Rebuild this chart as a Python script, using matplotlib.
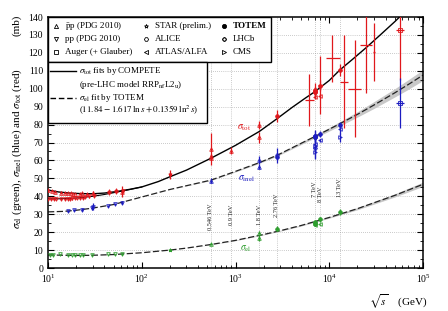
import matplotlib.pyplot as plt
import numpy as np

plt.rcParams['font.family'] = ['Liberation Serif', 'DejaVu Serif']
plt.rcParams['mathtext.fontset'] = 'stix'

red = '#e0181c'
blue = '#1c1cc0'
green = '#2e9e2e'

# ---- fit curves ----
tot_fit_x = [10, 13, 17, 22, 30, 40, 55, 75, 100, 150, 200, 300, 546, 1000, 1800,
             2760, 4000, 5500, 7000, 10000, 13000, 18000, 25000, 35000, 50000, 57000]
tot_fit_y = [43.5, 42.4, 41.8, 41.5, 41.4, 41.8, 42.7, 43.9, 45.2, 48.2, 50.9, 54.6, 61.2, 68.4, 76.2,
             83.2, 89.5, 94.6, 98.3, 104.6, 110.5, 116.7, 123.1, 130.0, 137.4, 140.3]
tot_pp_fit_x = [10, 13, 17, 22, 30, 40, 55, 75, 100]
tot_pp_fit_y = [38.6, 38.6, 38.8, 39.2, 40.0, 41.0, 42.4, 43.8, 45.2]

inel_fit_x = [10, 15, 20, 30, 50, 100, 200, 546, 1000, 1800, 2760, 4000, 5500, 7000,
              10000, 13000, 20000, 30000, 50000, 70000, 100000]
inel_fit_y = [31.3, 31.6, 32.2, 33.4, 35.4, 39.6, 43.8, 49.0, 53.9, 58.8, 62.8, 67.0, 70.6, 73.3,
              77.4, 80.5, 85.7, 90.9, 97.7, 102.4, 107.6]
inel_band = [0, 0, 0, 0, 0, 0, 0, 0.2, 0.3, 0.4, 0.5, 0.6, 0.7, 0.8,
             1.0, 1.2, 1.5, 1.9, 2.3, 2.7, 3.0]

el_fit_x = [10, 15, 20, 30, 50, 100, 200, 300, 546, 1000, 2000, 3000, 5000, 10000, 20000, 50000, 100000]
el_fit_y = [7.3, 7.1, 7.0, 7.1, 7.5, 8.5, 10.0, 11.1, 13.1, 15.4, 18.7, 20.8, 23.7, 28.2, 33.1, 40.5, 46.7]
el_band = [0, 0, 0, 0, 0, 0, 0, 0, 0.1, 0.15, 0.2, 0.25, 0.3, 0.4, 0.6, 0.9, 1.2]

# ---- data points ----
# sigma_tot
tot_ppbar_x = [10.0, 11.0, 12.0, 13.8, 15.0, 16.3, 17.7, 18.5, 19.4, 21.7, 23.0, 26.0, 30.4, 45.0, 53.0, 62.0,
               546, 546, 546, 900, 1800, 1800]
tot_ppbar_y = [43.3, 42.8, 42.2, 41.9, 41.8, 41.6, 41.8, 41.4, 41.5, 41.2, 41.6, 41.3, 41.8, 42.8, 43.4, 42.5,
               61.3, 62.2, 66.3, 65.5, 80.0, 72.8]
tot_ppbar_e = [1.0, 0.6, 0.5, 0.8, 0.6, 0.5, 0.6, 0.4, 0.5, 0.6, 0.5, 0.6, 0.9, 0.8, 0.9, 3.0,
               0.9, 1.5, 8.8, 2.0, 2.2, 3.1]
tot_pp_x = [10.0, 10.7, 11.5, 12.3, 13.8, 15.1, 16.3, 17.3, 18.2, 19.4, 20.5, 21.7, 23.5, 25.0, 27.4, 30.6,
            44.7, 52.8, 62.5]
tot_pp_y = [38.4, 38.3, 38.5, 38.3, 38.5, 38.4, 38.6, 38.4, 38.8, 38.9, 38.9, 39.0, 39.2, 39.4, 39.9, 40.3,
            41.7, 42.4, 43.2]
tot_pp_e = [0.6, 0.5, 0.5, 0.4, 0.6, 0.5, 0.5, 0.4, 0.6, 0.5, 0.4, 0.5, 0.5, 0.6, 0.6, 0.7, 0.6, 0.7, 0.8]
tot_star_x, tot_star_y, tot_star_e = [200], [52.2], [2.3]
tot_totem_x = [2760, 7000, 7000, 7000, 7000, 8000, 13000]
tot_totem_y = [84.7, 98.3, 98.6, 99.1, 98.0, 101.7, 110.6]
tot_totem_e = [3.3, 2.8, 2.2, 4.3, 2.5, 2.9, 3.4]
tot_atlas_x, tot_atlas_y, tot_atlas_e = [7000, 8000], [95.4, 96.1], [1.4, 0.9]
tot_auger_x, tot_auger_y, tot_auger_e = [57000], [133.0], [28.0]
tot_auger_xlo, tot_auger_xhi = [52000], [62000]
# cosmic ray points (no marker, energy bars)
cr_x = [6100, 8000, 10800, 14500, 19000, 24500, 30000]
cr_y = [93.5, 102.0, 117.0, 104.0, 100.0, 124.5, 120.5]
cr_e = [14.5, 16.0, 13.0, 26.0, 27.0, 27.0, 16.0]
cr_xlo = [5500, 7600, 9200, 13000, 16000, 21500, 29000]
cr_xhi = [6900, 8600, 12900, 15800, 22000, 28500, 31000]

# sigma_inel
inel_pp_x = [16.5, 19.0, 22.9, 29.2, 30.5, 44.0, 52.0, 61.0]
inel_pp_y = [31.8, 32.3, 32.6, 33.4, 34.2, 34.8, 35.6, 36.4]
inel_pp_e = [0.5, 0.6, 0.8, 1.0, 1.8, 0.6, 0.6, 0.7]
inel_ppbar_x = [546, 1800, 1800]
inel_ppbar_y = [48.8, 60.3, 56.6]
inel_ppbar_e = [1.5, 2.4, 1.2]
inel_alice_x, inel_alice_y, inel_alice_e = [2760, 7000], [62.8, 73.2], [4.2, 3.0]
inel_totem_x = [2760, 7000, 7000, 7000, 7000, 8000, 13000]
inel_totem_y = [62.1, 73.5, 72.9, 73.7, 73.1, 74.7, 79.5]
inel_totem_e = [1.5, 1.3, 1.5, 3.4, 1.3, 1.7, 1.8]
inel_atlas_x, inel_atlas_y, inel_atlas_e = [7000, 8000, 13000], [69.4, 71.3, 77.4], [2.4, 0.9, 2.5]
inel_cms_x, inel_cms_y, inel_cms_e = [7000, 7000, 13000], [68.0, 64.5, 73.0], [4.0, 3.5, 2.5]
inel_lhcb_x, inel_lhcb_y, inel_lhcb_e = [7000], [66.9], [5.3]
inel_auger_x, inel_auger_y, inel_auger_e = [57000], [92.0], [14.0]

# sigma_el
el_pp_x = [10.5, 11.4, 13.4, 16.5, 17.9, 19.4, 21.9, 23.5, 29.2, 44.0, 52.0, 61.0]
el_pp_y = [7.5, 7.4, 7.6, 7.3, 7.3, 7.1, 7.2, 7.4, 7.3, 7.6, 7.7, 7.8]
el_pp_e = [0.4, 0.3, 0.4, 0.3, 0.3, 0.3, 0.3, 0.3, 0.3, 0.3, 0.3, 0.3]
el_ppbar_x = [546, 1800, 1800]
el_ppbar_y = [13.4, 19.7, 16.6]
el_ppbar_e = [0.6, 0.9, 1.6]
el_star_x, el_star_y, el_star_e = [200], [10.0], [0.5]
el_totem_x = [2760, 7000, 7000, 7000, 8000, 13000]
el_totem_y = [21.8, 24.8, 25.4, 25.1, 27.1, 31.0]
el_totem_e = [1.4, 1.2, 1.1, 1.1, 1.4, 1.7]
el_atlas_x, el_atlas_y, el_atlas_e = [7000, 8000], [24.0, 24.3], [0.6, 0.5]

energies = [546, 900, 1800, 2760, 7000, 8000, 13000]
energy_labels = ['0.546 TeV', '0.9 TeV', '1.8 TeV', '2.76 TeV', '7 TeV', '8 TeV', '13 TeV']
energy_label_y = [21.2, 24.0, 24.0, 28.4, 39.6, 36.8, 39.6]

fig = plt.figure(figsize=(4.48, 3.11), dpi=100)
ax = fig.add_axes([48/448, 1-268/311, 375/448, 251/311])
ax.set_xscale('log')
ax.set_xlim(10, 1e5)
ax.set_ylim(0, 140)

for yy in range(10, 140, 10):
    ax.axhline(yy, color='#9a9a9a', lw=0.5, ls=(0, (1, 2)), zorder=0)
for e in energies:
    ax.axvline(e, color='#9a9a9a', lw=0.5, ls=(0, (1, 2)), zorder=0)
for e, lab, ly in zip(energies, energy_labels, energy_label_y):
    ax.text(e, ly, lab, rotation=90, ha='center', va='bottom', fontsize=4.6, color='#222222')

# bands and fits
ix = np.array(inel_fit_x); iy = np.array(inel_fit_y); ib = np.array(inel_band)
ax.fill_between(ix, iy - ib, iy + ib, color='#c8c8c8', lw=0, zorder=1)
ex = np.array(el_fit_x); ey = np.array(el_fit_y); eb = np.array(el_band)
ax.fill_between(ex, ey - eb, ey + eb, color='#c8c8c8', lw=0, zorder=1)
ax.plot(tot_fit_x, tot_fit_y, color='black', lw=1.0, zorder=2)
ax.plot(tot_pp_fit_x, tot_pp_fit_y, color='black', lw=0.8, zorder=2)
ax.plot(inel_fit_x, inel_fit_y, color='#222222', lw=0.9, dashes=(5, 2), zorder=2)
ax.plot(el_fit_x, el_fit_y, color='#222222', lw=0.9, dashes=(5, 2), zorder=2)


def pts(x, y, e, m, c, filled=False, xerr=None):
    ax.errorbar(x, y, yerr=e, xerr=xerr, fmt=m, color=c, ms=2.6, mew=0.6,
                mfc=c if filled else 'none', elinewidth=0.9, capsize=0, zorder=3)


# sigma_tot (red)
pts(tot_ppbar_x, tot_ppbar_y, tot_ppbar_e, '^', red)
pts(tot_pp_x, tot_pp_y, tot_pp_e, 'v', red)
pts(tot_star_x, tot_star_y, tot_star_e, '*', red)
pts(tot_totem_x, tot_totem_y, tot_totem_e, 'o', red, filled=True)
pts(tot_atlas_x, tot_atlas_y, tot_atlas_e, '<', red)
axe = [[x - lo for x, lo in zip(tot_auger_x, tot_auger_xlo)], [hi - x for x, hi in zip(tot_auger_x, tot_auger_xhi)]]
pts(tot_auger_x, tot_auger_y, tot_auger_e, 's', red, xerr=axe)
cre = [[x - lo for x, lo in zip(cr_x, cr_xlo)], [hi - x for x, hi in zip(cr_x, cr_xhi)]]
ax.errorbar(cr_x, cr_y, yerr=cr_e, xerr=cre, fmt='none', ecolor=red, elinewidth=0.9, capsize=0, zorder=3)

# sigma_inel (blue)
pts(inel_pp_x, inel_pp_y, inel_pp_e, 'v', blue)
pts(inel_ppbar_x, inel_ppbar_y, inel_ppbar_e, '^', blue)
pts(inel_alice_x, inel_alice_y, inel_alice_e, 'H', blue)
pts(inel_totem_x, inel_totem_y, inel_totem_e, 'o', blue, filled=True)
pts(inel_atlas_x, inel_atlas_y, inel_atlas_e, '<', blue)
pts(inel_cms_x, inel_cms_y, inel_cms_e, '>', blue)
pts(inel_lhcb_x, inel_lhcb_y, inel_lhcb_e, 'P', blue)
pts(inel_auger_x, inel_auger_y, inel_auger_e, 's', blue, xerr=axe)

# sigma_el (green)
pts(el_pp_x, el_pp_y, el_pp_e, 'v', green)
pts(el_ppbar_x, el_ppbar_y, el_ppbar_e, '^', green)
pts(el_star_x, el_star_y, el_star_e, '*', green)
pts(el_totem_x, el_totem_y, el_totem_e, 'o', green, filled=True)
pts(el_atlas_x, el_atlas_y, el_atlas_e, '<', green)

ax.text(1240, 78, r'$\sigma_{\rm tot}$', color=red, fontsize=7, ha='center', va='center')
ax.text(1300, 49.8, r'$\sigma_{\rm inel}$', color=blue, fontsize=7, ha='center', va='center')
ax.text(1300, 10.6, r'$\sigma_{\rm el}$', color=green, fontsize=7, ha='center', va='center')

# ticks and frame
ax.set_yticks(range(0, 141, 10))
ax.set_yticks(range(5, 140, 10), minor=True)
ax.tick_params(which='both', direction='in', top=True, right=True, labelsize=7)
ax.tick_params(which='major', length=4, width=0.8)
ax.tick_params(which='minor', length=2, width=0.6)
for s in ax.spines.values():
    s.set_linewidth(1.1)

# legend box 1 (experiments)
tr = ax.transAxes
ax.add_patch(plt.Rectangle((0, 0.822), 0.594, 0.178, transform=tr, fill=True,
                           fc='white', ec='black', lw=1.0, zorder=5))
leg_markers = [['^', '*', 'o'], ['v', 'H', 'P'], ['s', '<', '>']]
leg_texts = [['$\\bar{\\rm p}$p (PDG 2010)', 'STAR (prelim.)', 'TOTEM'],
             ['pp (PDG 2010)', 'ALICE', 'LHCb'],
             ['Auger (+ Glauber)', 'ATLAS/ALFA', 'CMS']]
row_y = [0.964, 0.911, 0.859]
col_mx = [0.021, 0.26, 0.469]
col_tx = [0.045, 0.285, 0.493]
for r in range(3):
    for c in range(3):
        m = leg_markers[r][c]
        ax.plot([col_mx[c]], [row_y[r]], marker=m, ms=3, mew=0.6, color='black',
                mfc='black' if m == 'o' else 'none', transform=tr, zorder=6, clip_on=False)
        ax.text(col_tx[c], row_y[r], leg_texts[r][c], transform=tr, fontsize=6.5,
                va='center', ha='left', zorder=6,
                fontweight='bold' if leg_texts[r][c] == 'TOTEM' else 'normal')

# legend box 2 (fits)
ax.add_patch(plt.Rectangle((0, 0.578), 0.424, 0.244, transform=tr, fill=True,
                           fc='white', ec='black', lw=1.0, zorder=5))
ax.plot([0.005, 0.075], [0.785, 0.785], color='black', lw=1.0, transform=tr, zorder=6)
ax.plot([0.005, 0.075], [0.676, 0.676], color='black', lw=1.0, dashes=(4, 2), transform=tr, zorder=6)
fit_texts = [r'$\sigma_{\rm tot}$ fits by COMPETE',
             r'(pre-LHC model RRP$_{\rm nf}$L2$_{\rm u}$)',
             r'$\sigma_{\rm el}$ fit by TOTEM',
             r'($11.84 - 1.617\,\ln s + 0.1359\,\ln^2 s$)']
fit_y = [0.785, 0.729, 0.676, 0.629]
for t, yy in zip(fit_texts, fit_y):
    ax.text(0.082, yy, t, transform=tr, fontsize=6.5, va='center', ha='left', zorder=6)

# axis labels
fig.text(17/448, 1 - 149/311, r'$\sigma_{\rm el}$ (green), $\sigma_{\rm inel}$ (blue) and $\sigma_{\rm tot}$ (red)',
         rotation=90, ha='center', va='center', fontsize=8)
fig.text(17/448, 1 - 25/311, '(mb)', rotation=90, ha='center', va='center', fontsize=8)
fig.text(427/448, 1 - 302/311, r'$\sqrt{s}$    (GeV)', ha='right', va='center', fontsize=8)

fig.savefig('out.png', dpi=100)
